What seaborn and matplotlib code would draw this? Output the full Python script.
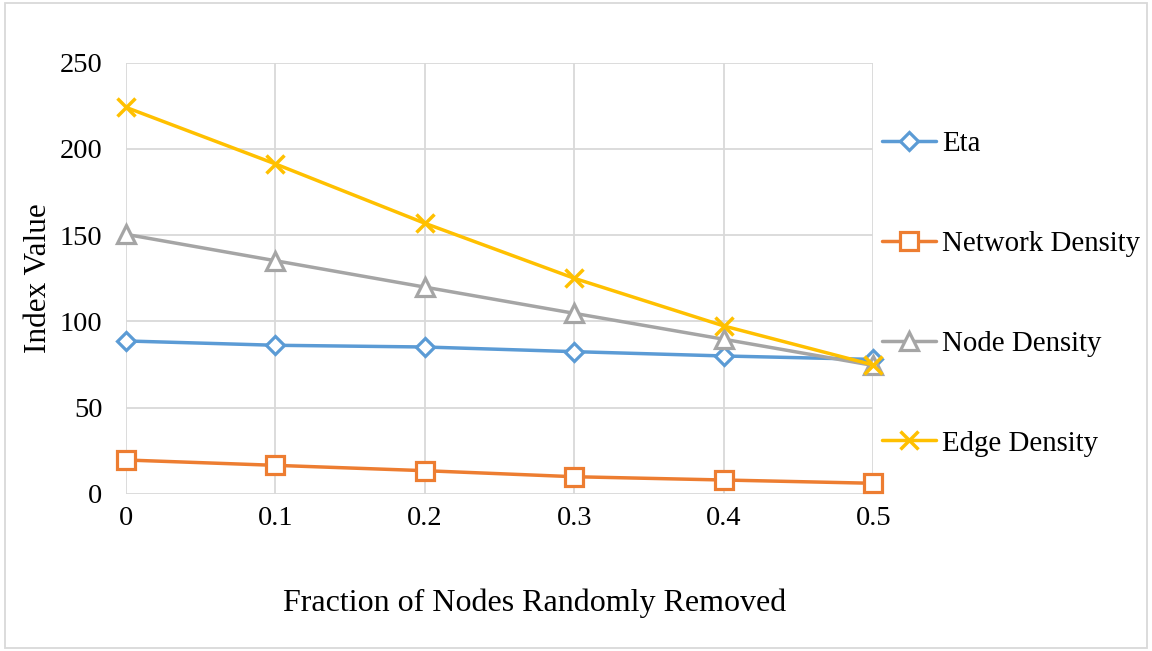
import matplotlib
matplotlib.use("Agg")
import matplotlib.pyplot as plt
import seaborn as sns
import pandas as pd
from matplotlib.patches import Rectangle

fractions = [0, 0.1, 0.2, 0.3, 0.4, 0.5]
eta = [88.7, 86.2, 85.2, 82.5, 80.0, 78.0]
network_density = [19.7, 16.6, 13.5, 10.0, 8.1, 6.2]
node_density = [150.5, 135.2, 119.9, 104.7, 89.7, 74.5]
edge_density = [224.1, 191.3, 156.9, 125.0, 97.4, 74.8]
series_names = ["Eta", "Network Density", "Node Density", "Edge Density"]
x_tick_labels = ["0", "0.1", "0.2", "0.3", "0.4", "0.5"]
y_ticks = [0, 50, 100, 150, 200, 250]

sns.set_theme(style="white")
plt.rcParams["font.family"] = ["Liberation Serif", "DejaVu Serif"]
plt.rcParams["text.color"] = "black"
plt.rcParams["axes.labelcolor"] = "black"

fig = plt.figure(figsize=(11.52, 6.51), dpi=100)
ax = fig.add_axes([0.1094, 0.2412, 0.6486, 0.6625])

colors = ["#5B9BD5", "#ED7D31", "#A5A5A5", "#FFC000"]
markers = ["D", "s", "^", "x"]
msizes = [9.5, 12.5, 12.5, 12.5]
values = [eta, network_density, node_density, edge_density]

for name, vals, c, m, ms in zip(series_names, values, colors, markers, msizes):
    df = pd.DataFrame({"x": fractions, "y": vals})
    if m == "x":
        sns.lineplot(data=df, x="x", y="y", ax=ax, color=c, linewidth=2.5,
                     marker=m, markersize=ms, markeredgewidth=2.5,
                     markeredgecolor=c, label=name, clip_on=False, zorder=3)
    else:
        sns.lineplot(data=df, x="x", y="y", ax=ax, color=c, linewidth=2.5,
                     marker=m, markersize=ms,
                     markerfacecolor="white", markeredgecolor=c,
                     markeredgewidth=2.3, label=name, clip_on=False, zorder=3)

ax.set_xlim(0, 0.5)
ax.set_ylim(0, 250)
ax.set_xticks(fractions)
ax.set_xticklabels(x_tick_labels)
ax.set_yticks(y_ticks)
ax.grid(True, color="#d9d9d9", linewidth=1.3)
ax.set_axisbelow(True)
for s in ax.spines.values():
    s.set_visible(False)
ax.tick_params(axis="both", length=0, labelsize=20.5, colors="black")
ax.tick_params(axis="x", pad=9)
ax.tick_params(axis="y", pad=17)
ax.set_xlabel("Fraction of Nodes Randomly Removed", fontsize=23, color="black")
ax.xaxis.set_label_coords(0.5475, -0.22)
ax.set_ylabel("Index Value", fontsize=22.5, labelpad=5, color="black")

handles, labels = ax.get_legend_handles_labels()
ax.legend_.remove()
leg = fig.legend(handles, labels, loc="center left", bbox_to_anchor=(0.756, 0.549),
                 frameon=False, fontsize=20.8, labelspacing=2.55, handlelength=1.85,
                 handletextpad=0.2, borderaxespad=0)
for t in leg.get_texts():
    t.set_color("black")

fig.patches.append(Rectangle((0.004, 0.004), 0.992, 0.992, transform=fig.transFigure,
                             fill=False, edgecolor="#d9d9d9", linewidth=1.3))

fig.savefig("out.png", dpi=100, facecolor="white")
